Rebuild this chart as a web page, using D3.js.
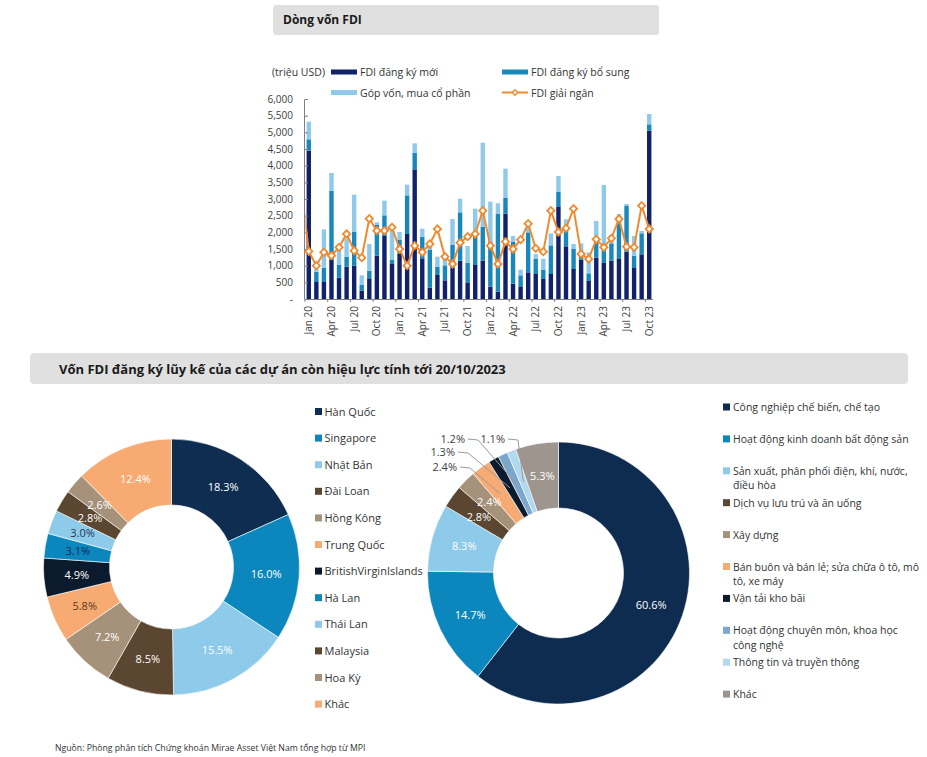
<!DOCTYPE html>
<html><head><meta charset="utf-8">
<script src="https://cdn.jsdelivr.net/npm/d3@7"></script>
<style>
body{margin:0;background:#fff;}
text{font-family:"Open Sans","Noto Sans",sans-serif;}
</style></head>
<body><svg id="c" width="927" height="757"></svg>
<script>
// ---------- DATA ----------
const months = ["Jan 20","Feb 20","Mar 20","Apr 20","May 20","Jun 20","Jul 20","Aug 20","Sep 20","Oct 20","Nov 20","Dec 20",
"Jan 21","Feb 21","Mar 21","Apr 21","May 21","Jun 21","Jul 21","Aug 21","Sep 21","Oct 21","Nov 21","Dec 21",
"Jan 22","Feb 22","Mar 22","Apr 22","May 22","Jun 22","Jul 22","Aug 22","Sep 22","Oct 22","Nov 22","Dec 22",
"Jan 23","Feb 23","Mar 23","Apr 23","May 23","Jun 23","Jul 23","Aug 23","Sep 23","Oct 23"];
const newFDI = [4450,510,510,1170,640,970,1000,250,600,1300,1890,1070,1350,1950,3890,1220,340,720,560,930,1150,500,1020,1150,
370,220,2560,460,380,800,750,600,750,2780,1580,900,1180,540,1240,1080,1150,1220,1420,930,1340,5050];
const addFDI = [340,310,430,2080,380,300,1010,170,250,920,620,100,420,1160,500,650,1130,250,450,690,1450,590,1030,1020,
1350,2330,470,1260,330,1200,450,270,860,430,590,600,220,230,480,490,520,1150,1370,370,630,190];
const gopVon = [530,80,1150,530,430,530,1120,290,800,80,440,900,240,320,280,240,200,300,240,780,410,500,660,2520,
1200,320,880,170,170,190,150,340,360,480,220,150,270,630,620,1850,150,180,60,590,70,310];
const disbursedDec19 = 3350;
const disbursed = [1430,1000,1400,1300,1550,1950,1450,1240,2410,2050,2050,2150,1500,1000,1600,1400,1650,2100,1270,1050,1690,1870,1950,
2650,1600,1050,1720,1500,1780,2260,1520,1420,2650,2010,2120,2710,1350,1200,1790,1550,1820,2400,1570,1550,2800,2100];
const yTicks = [0,500,1000,1500,2000,2500,3000,3500,4000,4500,5000,5500,6000];
const xTickLabels = ["Jan 20","Apr 20","Jul 20","Oct 20","Jan 21","Apr 21","Jul 21","Oct 21","Jan 22","Apr 22","Jul 22","Oct 22","Jan 23","Apr 23","Jul 23","Oct 23"];
const seriesNames = ["FDI đăng ký mới","FDI đăng ký bổ sung","Góp vốn, mua cổ phần","FDI giải ngân"];

const countries = ["Hàn Quốc","Singapore","Nhật Bản","Đài Loan","Hồng Kông","Trung Quốc","BritishVirginIslands","Hà Lan","Thái Lan","Malaysia","Hoa Kỳ","Khác"];
const countryShare = [18.3,16.0,15.5,8.5,7.2,5.8,4.9,3.1,3.0,2.8,2.6,12.4];

const sectors = ["Công nghiệp chế biến, chế tạo","Hoạt động kinh doanh bất động sản","Sản xuất, phân phối điện, khí, nước,\nđiều hòa","Dịch vụ lưu trú và ăn uống","Xây dựng","Bán buôn và bán lẻ; sửa chữa ô tô, mô\ntô, xe máy","Vận tải kho bãi","Hoạt động chuyên môn, khoa học\ncông nghệ","Thông tin và truyền thông","Khác"];
const sectorShare = [60.6,14.7,8.3,2.8,2.4,2.4,1.3,1.2,1.1,5.3];

// ---------- STYLES ----------
const cNew="#12226a", cAdd="#1a87bb", cGop="#90caea", cLine="#f08a30";
const leftColors = ["#0e2d50","#0b87bd","#8ecae9","#5b4631","#a6917a","#f7ab72","#0b1a2c","#0b87bd","#8ecae9","#5b4631","#a6917a","#f7ab72"];
const leftLabelColors = ["#fff","#fff","#fff","#fff","#fff","#5b3a1e","#fff","#0e2d50","#1e3a5c","#fff","#fff","#fff"];
const rightColors = ["#0d2c4f","#0b87bd","#8ecae9","#5b4631","#a6917a","#f7ab72","#0b1a2c","#7aa7cb","#b0d8ef","#9e958e"];
const rightLabelNudge = {3:1.8, 4:-1.8};

const svg = d3.select("#c");

// ---------- HEADERS ----------
svg.append("rect").attr("x",273).attr("y",5).attr("width",386).attr("height",30).attr("rx",3).attr("fill","#e0e0e0");
svg.append("text").attr("x",283).attr("y",24).attr("font-size",12).attr("font-weight",700).attr("fill","#1a1a1a").text("Dòng vốn FDI");
svg.append("rect").attr("x",30).attr("y",353).attr("width",878).attr("height",31).attr("rx",4).attr("fill","#e0e0e0");
svg.append("text").attr("x",59).attr("y",373.5).attr("font-size",13).attr("font-weight",700).attr("fill","#1a1a1a")
  .text("Vốn FDI đăng ký lũy kế của các dự án còn hiệu lực tính tới 20/10/2023");

// ---------- BAR CHART ----------
const x = d3.scalePoint().domain(months).range([305,653]).padding(0.5);
const y = d3.scaleLinear().domain([0,6000]).range([299,99]);
const bw = 4.4;
const g = svg.append("g");

const stackData = months.map((m,i)=>({m, a:newFDI[i], b:addFDI[i], c:gopVon[i]}));
const stacked = d3.stack().keys(["a","b","c"])(stackData);
const cols = [cNew,cAdd,cGop];
stacked.forEach((s,k)=>{
  g.append("g").selectAll("rect").data(s).join("rect")
    .attr("x",d=>x(d.data.m)-bw/2).attr("width",bw)
    .attr("y",d=>y(d[1])).attr("height",d=>y(d[0])-y(d[1]))
    .attr("fill",cols[k]);
});

// y axis
const yAx = d3.axisLeft(y).tickValues(yTicks).tickSize(-3).tickPadding(12)
  .tickFormat(d=> d===0 ? "-" : d3.format(",")(d));
const ya = svg.append("g").attr("transform","translate(305,0)").call(yAx);
ya.select(".domain").attr("stroke","#7f7f7f").attr("d","M-0.5,99.5V299.5");
ya.selectAll(".tick line").attr("stroke","#7f7f7f");
ya.selectAll("text").attr("font-size",10).attr("fill","#404040").attr("font-family","Open Sans, sans-serif");

// x axis
svg.append("line").attr("x1",305).attr("x2",653).attr("y1",299.5).attr("y2",299.5).attr("stroke","#7f7f7f");
const step = x.step();
svg.append("g").selectAll("line").data(xTickLabels).join("line")
  .attr("x1",d=>x(d)-step/2).attr("x2",d=>x(d)-step/2).attr("y1",299).attr("y2",302).attr("stroke","#7f7f7f");
svg.append("g").selectAll("text").data(xTickLabels).join("text")
  .attr("transform",d=>`translate(${x(d)+3.5},306) rotate(-90)`)
  .attr("text-anchor","end").attr("font-size",10).attr("fill","#404040").text(d=>d);

// line
svg.append("clipPath").attr("id","plotclip").append("rect").attr("x",305.5).attr("y",80).attr("width",360).attr("height",230);
const linePts = [[x(months[0])-step, disbursedDec19]].concat(months.map((m,i)=>[x(m),disbursed[i]]));
svg.append("path").attr("clip-path","url(#plotclip)")
  .attr("d", d3.line().x(d=>d[0]).y(d=>y(d[1]))(linePts))
  .attr("fill","none").attr("stroke",cLine).attr("stroke-width",2);
const diamond = d3.symbol().type(d3.symbolSquare).size(26)();
svg.append("g").selectAll("path").data(months).join("path")
  .attr("d",diamond)
  .attr("transform",(m,i)=>`translate(${x(m)},${y(disbursed[i])}) rotate(45)`)
  .attr("fill","#fff").attr("stroke",cLine).attr("stroke-width",1.8);

// legend
svg.append("text").attr("x",272).attr("y",76).attr("font-size",10.5).attr("fill","#333").text("(triệu USD)");
const legItems = [
  {x:331,y:72,c:cNew,t:seriesNames[0]},
  {x:502,y:72,c:cAdd,t:seriesNames[1]},
  {x:331,y:92.5,c:cGop,t:seriesNames[2]},
];
legItems.forEach(l=>{
  svg.append("rect").attr("x",l.x).attr("y",l.y-2.5).attr("width",26).attr("height",5).attr("fill",l.c);
  svg.append("text").attr("x",l.x+29).attr("y",l.y+4).attr("font-size",10.5).attr("fill","#333").text(l.t);
});
svg.append("line").attr("x1",502).attr("x2",528).attr("y1",92.5).attr("y2",92.5).attr("stroke",cLine).attr("stroke-width",2);
svg.append("path").attr("d",d3.symbol().type(d3.symbolSquare).size(14)()).attr("transform","translate(515,92.5) rotate(45)")
  .attr("fill","#fff").attr("stroke",cLine).attr("stroke-width",1.4);
svg.append("text").attr("x",531).attr("y",96.5).attr("font-size",10.5).attr("fill","#333").text(seriesNames[3]);

// ---------- LEFT DONUT ----------
const pie = d3.pie().sort(null).value(d=>d);
const lc = {x:171.5,y:567};
const lArc = d3.arc().innerRadius(62).outerRadius(128);
const lLab = d3.arc().innerRadius(95).outerRadius(95);
const lg = svg.append("g").attr("transform",`translate(${lc.x},${lc.y})`);
const lPie = pie(countryShare);
lg.selectAll("path").data(lPie).join("path").attr("d",lArc).attr("fill",(d,i)=>leftColors[i]).attr("stroke","#fff").attr("stroke-width",0.6);
lg.selectAll("text").data(lPie).join("text")
  .attr("transform",d=>`translate(${lLab.centroid(d)})`).attr("text-anchor","middle").attr("dy","0.35em")
  .attr("font-size",11).attr("fill",(d,i)=>leftLabelColors[i]).text(d=>d.data.toFixed(1)+"%");

// left legend
countries.forEach((c,i)=>{
  const yy = 411.5 + i*26.6;
  svg.append("rect").attr("x",315).attr("y",yy-3.5).attr("width",7).attr("height",7).attr("fill",leftColors[i]);
  svg.append("text").attr("x",324.5).attr("y",yy+4).attr("font-size",11).attr("fill","#333").text(c);
});

// ---------- RIGHT DONUT ----------
const rc = {x:558.5,y:573};
const rArc = d3.arc().innerRadius(65).outerRadius(131);
const rLab = d3.arc().innerRadius(98).outerRadius(98);
const rg = svg.append("g").attr("transform",`translate(${rc.x},${rc.y})`);
const rPie = pie(sectorShare);
rg.selectAll("path").data(rPie).join("path").attr("d",rArc).attr("fill",(d,i)=>rightColors[i]).attr("stroke","#fff").attr("stroke-width",0.6);
const outside = [5,6,7,8];
rPie.forEach((d,i)=>{
  if (outside.includes(i)) return;
  const [cx,cy] = rLab.centroid(d);
  rg.append("text").attr("x",cx).attr("y",cy+(rightLabelNudge[i]||0)).attr("text-anchor","middle").attr("dy","0.35em")
    .attr("font-size",11).attr("fill","#fff").text(d.data.toFixed(1)+"%");
});
const outPos = {5:[457,467],6:[455,452],7:[465,439],8:[505,439]};
outside.forEach(i=>{
  const d = rPie[i];
  const [cx,cy] = rLab.centroid(d);
  const px = rc.x+cx, py = rc.y+cy;
  const [lx,ly] = outPos[i];
  svg.append("polyline").attr("points",`${lx+3},${ly} ${lx+13},${ly+1} ${px},${py}`)
    .attr("fill","none").attr("stroke","#9a9a9a").attr("stroke-width",1);
  svg.append("text").attr("x",lx).attr("y",ly).attr("dy","0.35em").attr("text-anchor","end")
    .attr("font-size",11).attr("fill","#404040").text(d.data.toFixed(1)+"%");
});

// right legend
sectors.forEach((s,i)=>{
  const yy = 407 + i*31.9;
  svg.append("rect").attr("x",723).attr("y",yy-3.5).attr("width",7).attr("height",7).attr("fill",rightColors[i]);
  s.split("\n").forEach((line,k)=>{
    const t = svg.append("text").attr("x",733).attr("y",yy+4+k*14.5).attr("font-size",10.5).attr("fill","#333").text(line);
    const w = t.node().getComputedTextLength();
    if (w > 186) t.attr("textLength",186).attr("lengthAdjust","spacingAndGlyphs");
  });
});

// footer
svg.append("text").attr("x",55).attr("y",751).attr("font-size",8.7).attr("fill","#333")
  .text("Nguồn: Phòng phân tích Chứng khoán Mirae Asset Việt Nam tổng hợp từ MPI");
</script></body></html>
